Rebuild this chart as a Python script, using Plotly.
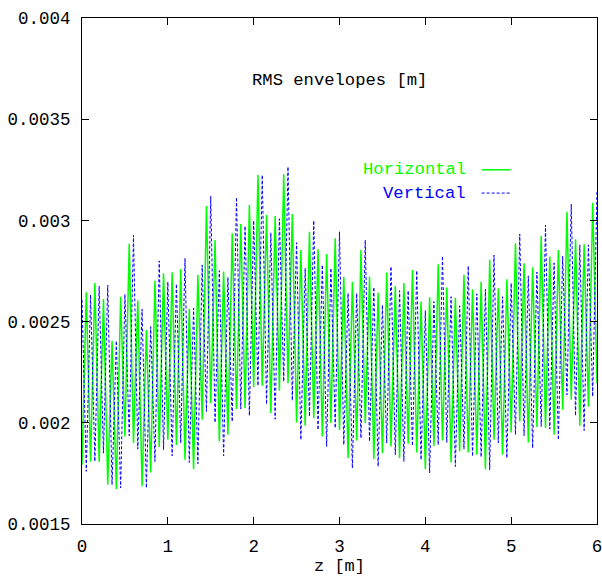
import plotly.graph_objects as go

# sampling positions along the beam line [m]
Z = [round(i * 0.05, 2) for i in range(121)]

HORIZONTAL = [0.001793,0.002645,0.001809,0.002690,0.001806,0.002612,0.001694,0.002405,0.001673,0.002623,
 0.001932,0.002884,0.001900,0.002604,0.001686,0.002459,0.001755,0.002702,0.001880,0.002739,
 0.001916,0.002744,0.001891,0.002760,0.001817,0.002563,0.001771,0.002731,0.002015,0.003071,
 0.002097,0.002903,0.001908,0.002747,0.001941,0.002936,0.002068,0.002982,0.002073,0.003076,
 0.002176,0.003224,0.002183,0.003027,0.002048,0.003022,0.002159,0.003229,0.002196,0.003032,
 0.002001,0.002854,0.001985,0.002944,0.002023,0.002857,0.001932,0.002834,0.001999,0.002912,
 0.001965,0.002722,0.001826,0.002697,0.001913,0.002854,0.001999,0.002722,0.001821,0.002643,
 0.001850,0.002742,0.001883,0.002676,0.001826,0.002690,0.001896,0.002755,0.001853,0.002599,
 0.001771,0.002620,0.001886,0.002783,0.001913,0.002668,0.001804,0.002618,0.001858,0.002731,
 0.001853,0.002660,0.001842,0.002697,0.001771,0.002805,0.001916,0.002665,0.001842,0.002709,
 0.001952,0.002887,0.002006,0.002788,0.001903,0.002769,0.001979,0.002923,0.001974,0.002821,
 0.001941,0.002854,0.002064,0.003043,0.002114,0.002907,0.001985,0.002882,0.002080,0.003087,
 0.002196]

VERTICAL = [0.002607,0.001760,0.002632,0.001809,0.002676,0.001850,0.002680,0.001694,0.002405,0.001678,
 0.002635,0.001936,0.002926,0.001870,0.002561,0.001678,0.002475,0.001809,0.002800,0.001867,
 0.002696,0.001837,0.002686,0.001900,0.002813,0.001804,0.002566,0.001798,0.002780,0.002056,
 0.003120,0.002001,0.002752,0.001837,0.002719,0.002006,0.003114,0.002068,0.002972,0.002035,
 0.002999,0.002183,0.003224,0.002092,0.002939,0.002018,0.003008,0.002204,0.003265,0.002110,
 0.002890,0.001916,0.002764,0.002031,0.002999,0.001965,0.002780,0.001883,0.002764,0.001974,
 0.002944,0.001891,0.002640,0.001776,0.002640,0.001924,0.002903,0.001908,0.002670,0.001784,
 0.002582,0.001900,0.002772,0.001842,0.002653,0.001809,0.002653,0.001886,0.002752,0.001817,
 0.002554,0.001752,0.002599,0.001891,0.002824,0.001903,0.002623,0.001784,0.002578,0.001870,
 0.002775,0.001834,0.002637,0.001831,0.002659,0.001768,0.002829,0.001900,0.002623,0.001826,
 0.002690,0.001941,0.002933,0.001936,0.002726,0.001875,0.002745,0.001982,0.002977,0.001969,
 0.002790,0.001916,0.002824,0.002138,0.003081,0.002035,0.002879,0.001962,0.002879,0.002130,
 0.003147]

Y_TICKS = [0.0015, 0.002, 0.0025, 0.003, 0.0035, 0.004]
Y_TICK_LABELS = ["0.0015", "0.002", "0.0025", "0.003", "0.0035", "0.004"]
X_TICKS = [0, 1, 2, 3, 4, 5, 6]

FONT = "Liberation Mono, DejaVu Sans Mono, monospace"
GREEN = "#00ff00"
BLUE = "#0000ff"

fig = go.Figure()
fig.add_trace(go.Scatter(x=Z, y=HORIZONTAL, mode="lines", name="Horizontal",
                         line=dict(color=GREEN, width=1.5)))
fig.add_trace(go.Scatter(x=Z, y=VERTICAL, mode="lines", name="Vertical",
                         line=dict(color=BLUE, width=1, dash="3px,2px")))

axis_common = dict(showline=True, mirror="ticks", linecolor="black", linewidth=1,
                   ticks="inside", ticklen=7, tickcolor="black", showgrid=False,
                   zeroline=False, automargin=False, ticklabeloverflow="allow",
                   tickfont=dict(family=FONT, size=17.5, color="black"))

fig.update_xaxes(range=[0, 6], tickvals=X_TICKS, ticklabelstandoff=6,
                 title=dict(text="z [m]", font=dict(family=FONT, size=17, color="black"),
                            standoff=0), **axis_common)
fig.update_yaxes(range=[0.0015, 0.004], tickvals=Y_TICKS, ticktext=Y_TICK_LABELS,
                 ticklabelstandoff=7, **axis_common)

ann_font = dict(family=FONT, size=17.2)
fig.add_annotation(text="RMS envelopes [m]", xref="paper", yref="paper", x=0.5, y=0.877,
                   xanchor="center", yanchor="middle", showarrow=False,
                   font=dict(ann_font, color="black"))
fig.add_annotation(text="Horizontal", xref="paper", yref="paper", x=0.749, y=0.70,
                   xanchor="right", yanchor="middle", showarrow=False,
                   font=dict(ann_font, color=GREEN))
fig.add_annotation(text="Vertical", xref="paper", yref="paper", x=0.749, y=0.654,
                   xanchor="right", yanchor="middle", showarrow=False,
                   font=dict(ann_font, color=BLUE))
fig.add_shape(type="line", xref="paper", yref="paper", x0=0.776, x1=0.832, y0=0.70, y1=0.70,
              line=dict(color=GREEN, width=1.5))
fig.add_shape(type="line", xref="paper", yref="paper", x0=0.776, x1=0.832, y0=0.654, y1=0.654,
              line=dict(color=BLUE, width=1, dash="3px,2px"))

fig.update_layout(width=602, height=582, showlegend=False,
                  margin=dict(l=82, r=5, t=18, b=58),
                  paper_bgcolor="white", plot_bgcolor="white")

# remove the browser's default 8 px body margin so the figure fills the window
fig.write_html("out.html", config={"displayModeBar": False},
               post_script="document.body.style.margin='0';document.body.style.overflow='hidden';")
